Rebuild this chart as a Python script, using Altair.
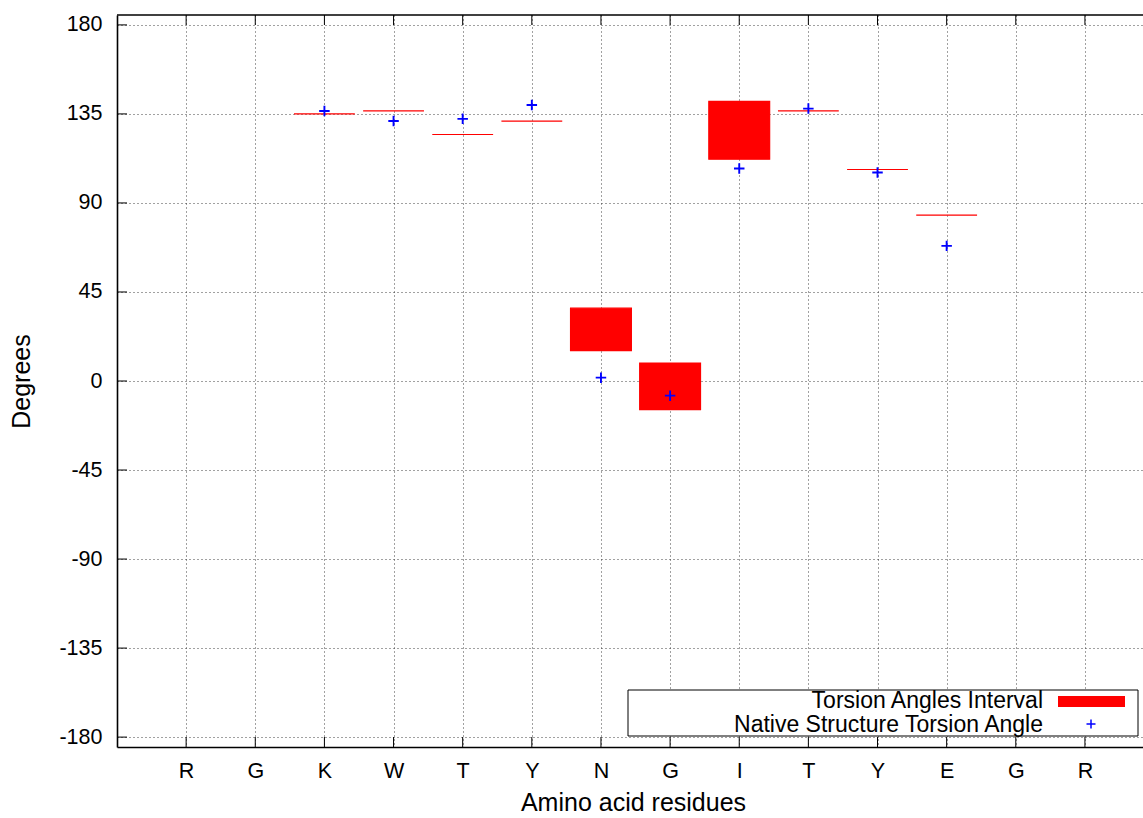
import altair as alt
import pandas as pd

# ---- data ----
residues = ["R", "G", "K", "W", "T", "Y", "N", "G", "I", "T", "Y", "E", "G", "R"]
positions = list(range(1, 15))
y_ticks = [-180, -135, -90, -45, 0, 45, 90, 135, 180]

interval_pos = [3, 4, 5, 6, 7, 8, 9, 10, 11, 12]
interval_lo = [135.0, 136.5, 124.6, 131.4, 15.4, -14.5, 112.1, 136.5, 106.9, 83.8]
interval_hi = [135.0, 136.5, 124.6, 131.4, 36.8, 9.1, 141.3, 136.5, 106.9, 83.8]

native_pos = [3, 4, 5, 6, 7, 8, 9, 10, 11, 12]
native_deg = [136.5, 131.4, 132.5, 139.5, 1.7, -7.4, 107.4, 137.7, 105.4, 68.3]

legend_labels = ["Torsion Angles Interval", "Native Structure Torsion Angle"]

# ---- layout ----
W, H = 1026, 732
HALF = 0.44
FONT = "Liberation Sans"
PLUS = "M-1,0H1M0,-1V1"
TICK_FS = 21.5
TITLE_FS = 25
LEG_FS = 23

xscale = alt.Scale(domain=[0, 14.84], nice=False, zero=False)
yscale = alt.Scale(domain=[-185, 185], nice=False, zero=False)

iv = pd.DataFrame({"pos": interval_pos, "lo": interval_lo, "hi": interval_hi})
iv["x1"] = iv["pos"] - HALF
iv["x2"] = iv["pos"] + HALF
nat = pd.DataFrame({"pos": native_pos, "deg": native_deg})
xt = pd.DataFrame({"pos": positions, "res": residues})
yt = pd.DataFrame({"deg": y_ticks})
one = pd.DataFrame({"k": [0]})

label_expr = "[" + ",".join("'%s'" % r for r in residues) + "][datum.value - 1]"

common_axis = dict(
    grid=True, tickSize=0,
    labelFont=FONT, labelFontSize=TICK_FS, labelColor="black",
    titleFont=FONT, titleFontSize=TITLE_FS, titleFontWeight="normal", titleColor="black",
    domainColor="black", domainWidth=1.6,
    gridColor="#222222", gridDash=[1, 3], gridWidth=1, gridOpacity=0.85,
)

intervals = alt.Chart(iv).mark_rect(color="#ff0000", stroke="#ff0000", strokeWidth=1.2).encode(
    x=alt.X("x1:Q", scale=xscale,
            axis=alt.Axis(values=positions, labelExpr=label_expr, title="Amino acid residues",
                          labelPadding=13, titlePadding=9, titleX=516, **common_axis)),
    x2="x2:Q",
    y=alt.Y("lo:Q", scale=yscale,
            axis=alt.Axis(values=y_ticks, labelExpr="'' + datum.value", title="Degrees",
                          labelPadding=15, titlePadding=24, **common_axis)),
    y2="hi:Q",
)

natives = alt.Chart(nat).mark_point(shape=PLUS, size=110, filled=False, color="#0000ff",
                                    strokeWidth=1.9, opacity=1).encode(
    x=alt.X("pos:Q", scale=xscale),
    y=alt.Y("deg:Q", scale=yscale),
)

# inward tick marks and top border
ticks_bottom = alt.Chart(xt).mark_rule(color="black", strokeWidth=1).encode(
    x=alt.X("pos:Q", scale=xscale), y=alt.value(H), y2=alt.value(H - 10))
ticks_top = alt.Chart(xt).mark_rule(color="black", strokeWidth=1).encode(
    x=alt.X("pos:Q", scale=xscale), y=alt.value(0), y2=alt.value(10))
ticks_left = alt.Chart(yt).mark_rule(color="black", strokeWidth=1).encode(
    y=alt.Y("deg:Q", scale=yscale), x=alt.value(0), x2=alt.value(10))
top_border = alt.Chart(one).mark_rule(color="black", strokeWidth=1.6).encode(
    x=alt.value(0), x2=alt.value(W), y=alt.value(0))

# legend
leg_box = alt.Chart(one).mark_rect(fill="white", stroke="black", strokeWidth=1).encode(
    x=alt.value(511), x2=alt.value(1021), y=alt.value(675), y2=alt.value(721))
leg_t1 = alt.Chart(one).mark_text(align="right", baseline="middle", font=FONT, fontSize=LEG_FS,
                                  color="black").encode(
    x=alt.value(926), y=alt.value(686), text=alt.value(legend_labels[0]))
leg_t2 = alt.Chart(one).mark_text(align="right", baseline="middle", font=FONT, fontSize=LEG_FS,
                                  color="black").encode(
    x=alt.value(926), y=alt.value(710), text=alt.value(legend_labels[1]))
leg_sw = alt.Chart(one).mark_rect(color="#ff0000").encode(
    x=alt.value(941), x2=alt.value(1008), y=alt.value(681), y2=alt.value(692))
leg_pt = alt.Chart(one).mark_point(shape=PLUS, size=81, filled=False, color="#0000ff",
                                   strokeWidth=1.5, opacity=1).encode(
    x=alt.value(974), y=alt.value(709))

chart = alt.layer(
    intervals, natives, ticks_bottom, ticks_top, ticks_left, top_border,
    leg_box, leg_t1, leg_t2, leg_sw, leg_pt,
).properties(
    width=W, height=H,
    padding={"left": 117, "top": 15, "right": 0, "bottom": 71},
    autosize=alt.AutoSizeParams(type="none"),
    background="white",
).configure_view(stroke=None)

chart.save("out.html", embed_options={"renderer": "svg", "actions": False})
